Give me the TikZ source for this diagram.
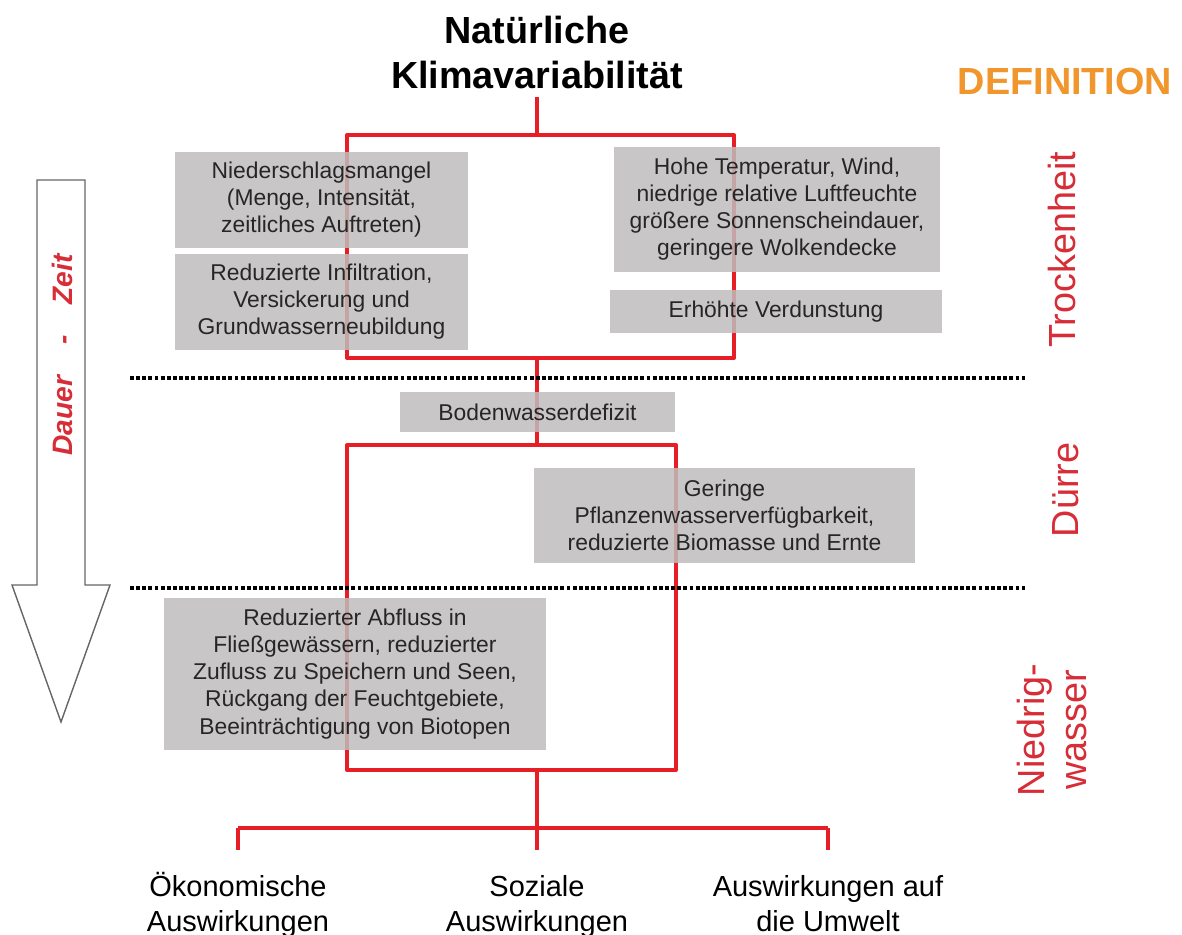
\documentclass[tikz,border=0pt]{standalone}
\usepackage{fontspec}
\setmainfont{Liberation Sans}
\definecolor{astrot}{RGB}{232,30,38}
\definecolor{labelrot}{RGB}{214,45,55}
\definecolor{deforange}{RGB}{240,150,45}
\definecolor{boxgrau}{RGB}{190,188,188}

\begin{document}
\begin{tikzpicture}[x = 0.02cm, y = -0.02cm]
\tikzstyle{Ast}=[draw = astrot, line width = 2.3pt, line join = round]
\tikzstyle{Befund}=[fill = boxgrau, fill opacity = 0.85, text opacity = 1,
                    text = black!85, align = center, inner sep = 0pt,
                    font = \fontsize{13}{15.4}\selectfont]
\tikzstyle{Grenze}=[draw = black, line width = 2.2pt,
                    dash pattern = on 2.2pt off 1.3pt]
\tikzstyle{Phase}=[text = labelrot, rotate = 90, align = center,
                   font = \fontsize{21.5}{24}\selectfont]
\tikzstyle{Folge}=[align = center, inner xsep = 0pt, inner ysep = 0.44cm,
                   anchor = north, font = \fontsize{16.5}{19.9}\selectfont]
\useasboundingbox (0,0) rectangle (1182,935);
\node[anchor = south, inner sep = 0.15cm, align = center,
      font = \fontsize{21.5}{25.6}\selectfont\bfseries] (klima) at (537,97)
      {Natürliche\\Klimavariabilität};
\node[text = deforange, font = \fontsize{21.5}{25.6}\selectfont\bfseries]
      (def) at (1065,82) {DEFINITION};
\coordinate (k1) at (537,135);
\coordinate (kl1) at (347,135);
\coordinate (kr1) at (734,135);
\coordinate (kl2) at (347,358);
\coordinate (kr2) at (734,358);
\coordinate (k2) at (537,358);
\coordinate (k3) at (537,445);
\coordinate (kl3) at (347,445);
\coordinate (kr3) at (676,445);
\coordinate (kl4) at (347,770);
\coordinate (kr4) at (676,770);
\coordinate (k4) at (537,770);
\coordinate (k5) at (537,828);
\coordinate (fl) at (238,828);
\coordinate (fr) at (828,828);
\node[Folge] (oeko) at (238,850) {Ökonomische\\Auswirkungen};
\node[Folge] (sozial) at (537,850) {\vphantom{Ö}Soziale\\Auswirkungen};
\node[Folge] (umwelt) at (828,850) {\vphantom{Ö}Auswirkungen auf\\die Umwelt};
\draw[Ast] (klima) -- (k1);
\draw[Ast] (kl1) -- (kr1) -- (kr2) -- (kl2) -- cycle;
\draw[Ast] (k2) -- (k3);
\draw[Ast] (kl3) -- (kr3) -- (kr4) -- (kl4) -- cycle;
\draw[Ast] (k4) -- (k5);
\draw[Ast] (fl) -- (fr);
\draw[Ast] (fl) -- (oeko);
\draw[Ast] (k5) -- (sozial);
\draw[Ast] (fr) -- (umwelt);
\draw[Grenze] (130,378) -- (1025,378);
\draw[Grenze] (130,588) -- (1025,588);
\draw[draw = black!60, line width = 0.8pt, fill = white, line join = miter]
      (37,180) -- (85,180) -- (85,585) -- (110,585) -- (61,722)
      -- (12,585) -- (37,585) -- cycle;
\node[rotate = 90, text = labelrot,
      font = \fontsize{16}{19}\selectfont\bfseries\itshape] (dauer) at (62,355)
      {Dauer\hspace{1.1em}-\hspace{1.1em}Zeit};
\node[Befund, minimum width = 5.86cm, minimum height = 1.92cm] (nieder)
      at (321.5,200) {Niederschlagsmangel\\(Menge, Intensität,\\zeitliches Auftreten)};
\node[Befund, minimum width = 5.86cm, minimum height = 1.92cm] (infil)
      at (321.5,302) {Reduzierte Infiltration,\\Versickerung und\\Grundwasserneubildung};
\node[Befund, minimum width = 6.52cm, minimum height = 2.5cm] (temp)
      at (777,209.5) {Hohe Temperatur, Wind,\\niedrige relative Luftfeuchte\\größere Sonnenscheindauer,\\geringere Wolkendecke};
\node[Befund, minimum width = 6.64cm, minimum height = 0.86cm] (verd)
      at (776,311.5) {Erhöhte Verdunstung};
\node[Befund, minimum width = 5.5cm, minimum height = 0.8cm] (boden)
      at (537.5,412) {Bodenwasserdefizit};
\node[Befund, minimum width = 7.62cm, minimum height = 1.9cm] (pflanze)
      at (724.5,515.5) {Geringe\\Pflanzenwasserverfügbarkeit,\\reduzierte Biomasse und Ernte};
\node[Befund, minimum width = 7.64cm, minimum height = 3.04cm] (abfluss)
      at (355,674) {Reduzierter Abfluss in\\Fließgewässern, reduzierter\\Zufluss zu Speichern und Seen,\\Rückgang der Feuchtgebiete,\\Beeinträchtigung von Biotopen};
\node[Phase] (trocken) at (1062,250) {Trockenheit};
\node[Phase] (duerre) at (1066,490) {Dürre};
\node[Phase] (niedrig) at (1052,730) {Niedrig-\\wasser};
\end{tikzpicture}
\end{document}
